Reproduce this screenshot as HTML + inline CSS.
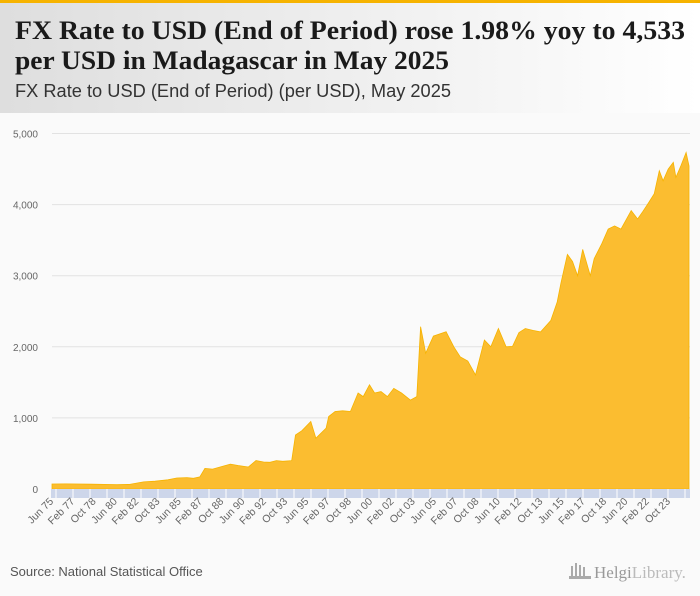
<!DOCTYPE html>
<html><head><meta charset="utf-8"><style>
html,body{margin:0;padding:0;background:#fafafa;}
svg{display:block;font-family:"Liberation Sans",sans-serif;}
</style></head><body>
<svg width="700" height="596" viewBox="0 0 700 596">
<defs><linearGradient id="hg" x1="0" x2="1" y1="0" y2="0"><stop offset="0" stop-color="#dedede"/><stop offset="1" stop-color="#ffffff"/></linearGradient></defs>
<rect x="0" y="0" width="700" height="596" fill="#fafafa"/>
<rect x="0" y="3" width="700" height="110" fill="url(#hg)"/>
<rect x="0" y="0" width="700" height="3" fill="#f6b300"/>
<text x="15" y="39" font-family="Liberation Serif,serif" font-weight="bold" font-size="26" fill="#1a1a1a" textLength="670" lengthAdjust="spacingAndGlyphs">FX Rate to USD (End of Period) rose 1.98% yoy to 4,533</text>
<text x="15" y="69" font-family="Liberation Serif,serif" font-weight="bold" font-size="26" fill="#1a1a1a" textLength="434" lengthAdjust="spacingAndGlyphs">per USD in Madagascar in May 2025</text>
<text x="15" y="97" font-size="18" fill="#333" textLength="436" lengthAdjust="spacingAndGlyphs">FX Rate to USD (End of Period) (per USD), May 2025</text>
<g id="grid"></g>
<g id="area"></g>
<g id="xaxis"></g>
<text x="10" y="576" font-size="13" fill="#555">Source: National Statistical Office</text>
<g>
<rect x="571" y="566" width="2" height="12" fill="#aaa"/><rect x="575" y="563" width="2" height="15" fill="#aaa"/><rect x="579" y="565" width="2" height="13" fill="#aaa"/><rect x="583" y="567" width="2" height="11" fill="#aaa"/><rect x="569" y="576" width="22" height="3" fill="#aaa"/>
<text x="594" y="578" font-family="Liberation Serif,serif" font-size="17" fill="#999">Helgi<tspan fill="#bbb">Library.</tspan></text>
</g>
</svg>
<script>
const dates=[1975.42,1976.5,1977.5,1978.5,1979.5,1980.5,1981.5,1982.6,1983.5,1984.5,1985.2,1986.0,1986.5,1987.0,1987.4,1988.0,1988.8,1989.4,1990.0,1990.8,1991.4,1992.0,1992.5,1993.0,1993.5,1994.2,1994.5,1995.0,1995.7,1996.1,1996.9,1997.1,1997.6,1998.2,1998.8,1999.4,1999.8,2000.3,2000.7,2001.2,2001.7,2002.2,2002.8,2003.5,2004.0,2004.3,2004.7,2005.3,2006.3,2006.9,2007.4,2008.0,2008.6,2009.3,2009.8,2010.4,2011.0,2011.5,2012.0,2012.5,2013.1,2013.7,2014.5,2015.0,2015.3,2015.8,2016.2,2016.6,2017.0,2017.6,2017.9,2018.5,2019.0,2019.5,2020.0,2020.8,2021.3,2021.7,2022.1,2022.6,2023.0,2023.3,2023.7,2024.1,2024.3,2024.7,2025.1,2025.33];
const values=[70,72,70,68,65,60,65,100,110,130,155,160,150,170,290,280,320,350,330,310,400,380,375,400,390,400,760,820,950,715,855,1020,1090,1100,1090,1350,1300,1465,1350,1370,1300,1415,1350,1250,1300,2283,1910,2150,2212,2000,1860,1800,1603,2096,2000,2258,2000,2005,2200,2258,2230,2210,2370,2630,2900,3300,3200,3000,3370,3000,3240,3450,3655,3700,3655,3915,3797,3900,4008,4150,4476,4335,4500,4593,4383,4550,4733,4545];
const yTicks=[0,1000,2000,3000,4000,5000];
const xLabels=["Jun 75","Feb 77","Oct 78","Jun 80","Feb 82","Oct 83","Jun 85","Feb 87","Oct 88","Jun 90","Feb 92","Oct 93","Jun 95","Feb 97","Oct 98","Jun 00","Feb 02","Oct 03","Jun 05","Feb 07","Oct 08","Jun 10","Feb 12","Oct 13","Jun 15","Feb 17","Oct 18","Jun 20","Feb 22","Oct 23"];
const NS="http://www.w3.org/2000/svg";
const X0=52,X1=689,D0=1975.42,D1=2025.33,Y0=489,Y1=133.5,VMAX=5000;
const xs=d=>X0+(d-D0)/(D1-D0)*(X1-X0);
const ys=v=>Y0-v/VMAX*(Y0-Y1);
function mk(t,a,p){const e=document.createElementNS(NS,t);for(const k in a)e.setAttribute(k,a[k]);p.appendChild(e);return e;}
const grid=document.getElementById('grid');
yTicks.forEach(v=>{
 if(v>0){const l=mk('line',{x1:X0,x2:690,y1:ys(v),y2:ys(v),stroke:'#e2e2e2','stroke-width':1},grid);
 
 }
 const t=mk('text',{x:38,y:ys(v)+4,'text-anchor':'end','font-size':10,fill:'#666'},grid);
 t.textContent=v.toLocaleString('en-US');
 
 
});
const area=document.getElementById('area');
let d='M'+xs(dates[0])+','+Y0;
dates.forEach((dt,i)=>{d+=' L'+xs(dt).toFixed(1)+','+ys(values[i]).toFixed(1);});
d+=' L'+xs(dates[dates.length-1])+','+Y0+' Z';
const p=mk('path',{d:d,fill:'#fbbd30',stroke:'#f6b300','stroke-width':0.8},area);


const xa=document.getElementById('xaxis');
const band=mk('rect',{x:X0-1,y:Y0,width:690-X0+1,height:9,fill:'#cdd6ea'},xa);


for(let x=X0+4;x<690;x+=17){const s=mk('line',{x1:x,x2:x,y1:Y0,y2:Y0+9,stroke:'#fff','stroke-width':1},xa);
 
 }
xLabels.forEach((lb,i)=>{
 const dt=D0+i*20/12;const x=xs(dt)+2,y=502;
 const t=mk('text',{x:x,y:y,'text-anchor':'end','font-size':10.5,fill:'#666',transform:'rotate(-45 '+x+' '+y+')'},xa);
 t.textContent=lb;
 
 
});
</script>
</body></html>
